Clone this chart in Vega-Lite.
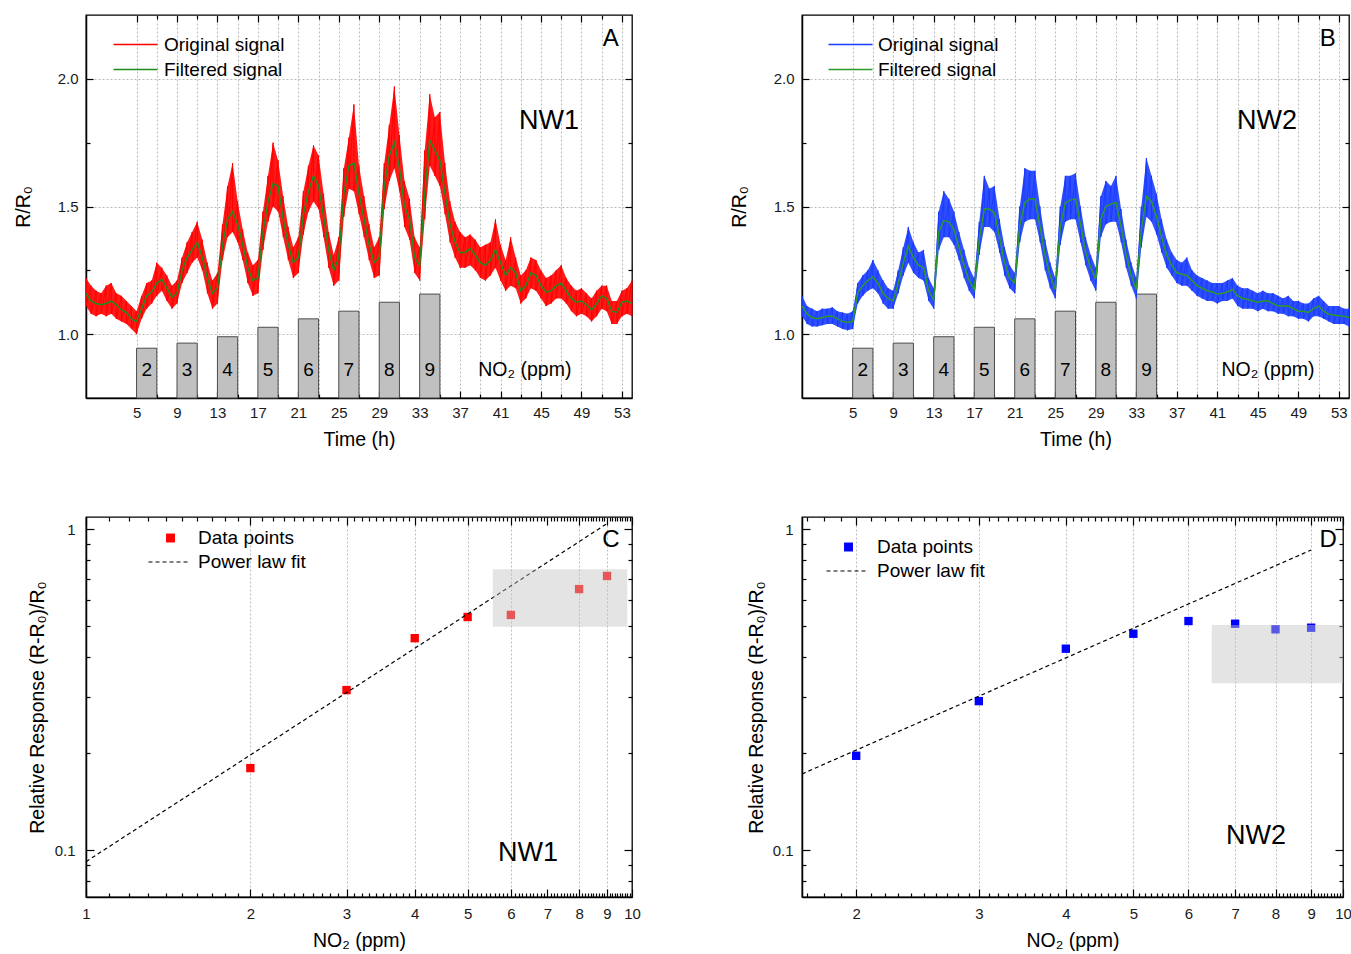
{
"$schema": "https://vega.github.io/schema/vega-lite/v6.json",
"background": "white",
"padding": {"left": 12, "top": 13, "right": 0, "bottom": 0},
"columns": 2,
"spacing": {"row": 65, "column": 87},
"resolve": {"scale": {"x": "independent", "y": "independent", "color": "independent", "strokeDash": "independent"}},
"config": {
  "font": "Liberation Sans",
  "view": {"stroke": "black", "strokeWidth": 1.3},
  "axis": {"labelFont": "Liberation Sans", "labelFontSize": 15, "labelColor": "#1a1a1a", "titleFont": "Liberation Sans", "titleFontSize": 19.5, "titleFontWeight": "normal", "titleColor": "black", "tickColor": "black", "tickWidth": 1.2, "domainColor": "black", "domainWidth": 1.5, "gridColor": "#a8a8a8", "gridDash": [2, 2], "gridWidth": 0.8},
  "legend": {"labelFont": "Liberation Sans", "labelFontSize": 19, "labelColor": "black", "labelLimit": 0},
  "text": {"font": "Liberation Sans"}
},
"datasets": {
  "bars": [
    {"n": 2, "t0": 5, "t1": 7, "tm": 6, "h": 0.945},
    {"n": 3, "t0": 9, "t1": 11, "tm": 10, "h": 0.965},
    {"n": 4, "t0": 13, "t1": 15, "tm": 14, "h": 0.99},
    {"n": 5, "t0": 17, "t1": 19, "tm": 18, "h": 1.027},
    {"n": 6, "t0": 21, "t1": 23, "tm": 22, "h": 1.06},
    {"n": 7, "t0": 25, "t1": 27, "tm": 26, "h": 1.09},
    {"n": 8, "t0": 29, "t1": 31, "tm": 30, "h": 1.125},
    {"n": 9, "t0": 33, "t1": 35, "tm": 34, "h": 1.157}
  ],
  "nw1": [
    {"t":0,"f":1.16,"lo":1.11,"hi":1.22},{"t":0.5,"f":1.13,"lo":1.08,"hi":1.19},{"t":1,"f":1.12,"lo":1.07,"hi":1.17},{"t":1.5,"f":1.115,"lo":1.08,"hi":1.16},
    {"t":2,"f":1.12,"lo":1.07,"hi":1.19},{"t":2.5,"f":1.13,"lo":1.08,"hi":1.2},{"t":3,"f":1.115,"lo":1.06,"hi":1.16},{"t":3.5,"f":1.095,"lo":1.05,"hi":1.15},
    {"t":4,"f":1.085,"lo":1.04,"hi":1.13},{"t":4.5,"f":1.06,"lo":1.02,"hi":1.11},{"t":5,"f":1.05,"lo":1.0,"hi":1.09},{"t":5.5,"f":1.1,"lo":1.06,"hi":1.15},
    {"t":6,"f":1.15,"lo":1.1,"hi":1.2},{"t":6.5,"f":1.165,"lo":1.12,"hi":1.21},{"t":7,"f":1.2,"lo":1.15,"hi":1.28},{"t":7.5,"f":1.215,"lo":1.17,"hi":1.26},
    {"t":8,"f":1.18,"lo":1.13,"hi":1.23},{"t":8.5,"f":1.145,"lo":1.1,"hi":1.19},{"t":9,"f":1.16,"lo":1.12,"hi":1.21},{"t":9.5,"f":1.25,"lo":1.2,"hi":1.3},
    {"t":10,"f":1.3,"lo":1.24,"hi":1.36},{"t":10.5,"f":1.33,"lo":1.28,"hi":1.4},{"t":11,"f":1.36,"lo":1.3,"hi":1.44},{"t":11.5,"f":1.3,"lo":1.25,"hi":1.37},
    {"t":12,"f":1.22,"lo":1.16,"hi":1.28},{"t":12.5,"f":1.16,"lo":1.1,"hi":1.21},{"t":13,"f":1.18,"lo":1.12,"hi":1.24},{"t":13.5,"f":1.35,"lo":1.29,"hi":1.43},
    {"t":14,"f":1.45,"lo":1.38,"hi":1.58},{"t":14.5,"f":1.48,"lo":1.4,"hi":1.67},{"t":15,"f":1.43,"lo":1.36,"hi":1.52},{"t":15.5,"f":1.35,"lo":1.29,"hi":1.41},
    {"t":16,"f":1.26,"lo":1.2,"hi":1.32},{"t":16.5,"f":1.21,"lo":1.15,"hi":1.27},{"t":17,"f":1.22,"lo":1.16,"hi":1.29},{"t":17.5,"f":1.4,"lo":1.33,"hi":1.48},
    {"t":18,"f":1.52,"lo":1.44,"hi":1.62},{"t":18.5,"f":1.59,"lo":1.5,"hi":1.75},{"t":19,"f":1.58,"lo":1.48,"hi":1.68},{"t":19.5,"f":1.45,"lo":1.38,"hi":1.54},
    {"t":20,"f":1.35,"lo":1.29,"hi":1.42},{"t":20.5,"f":1.28,"lo":1.22,"hi":1.34},{"t":21,"f":1.3,"lo":1.24,"hi":1.38},{"t":21.5,"f":1.47,"lo":1.39,"hi":1.56},
    {"t":22,"f":1.56,"lo":1.48,"hi":1.66},{"t":22.5,"f":1.62,"lo":1.52,"hi":1.74},{"t":23,"f":1.58,"lo":1.49,"hi":1.7},{"t":23.5,"f":1.46,"lo":1.38,"hi":1.55},
    {"t":24,"f":1.33,"lo":1.26,"hi":1.4},{"t":24.5,"f":1.25,"lo":1.19,"hi":1.31},{"t":25,"f":1.3,"lo":1.21,"hi":1.38},{"t":25.5,"f":1.55,"lo":1.46,"hi":1.65},
    {"t":26,"f":1.66,"lo":1.57,"hi":1.77},{"t":26.5,"f":1.67,"lo":1.56,"hi":1.9},{"t":27,"f":1.55,"lo":1.47,"hi":1.66},{"t":27.5,"f":1.45,"lo":1.38,"hi":1.54},
    {"t":28,"f":1.35,"lo":1.29,"hi":1.43},{"t":28.5,"f":1.28,"lo":1.22,"hi":1.34},{"t":29,"f":1.3,"lo":1.23,"hi":1.38},{"t":29.5,"f":1.58,"lo":1.49,"hi":1.67},
    {"t":30,"f":1.7,"lo":1.6,"hi":1.82},{"t":30.5,"f":1.75,"lo":1.65,"hi":1.97},{"t":31,"f":1.65,"lo":1.56,"hi":1.78},{"t":31.5,"f":1.5,"lo":1.42,"hi":1.6},
    {"t":32,"f":1.45,"lo":1.37,"hi":1.53},{"t":32.5,"f":1.3,"lo":1.24,"hi":1.38},{"t":33,"f":1.27,"lo":1.21,"hi":1.34},{"t":33.5,"f":1.55,"lo":1.45,"hi":1.72},
    {"t":34,"f":1.76,"lo":1.66,"hi":1.94},{"t":34.5,"f":1.72,"lo":1.62,"hi":1.85},{"t":35,"f":1.68,"lo":1.58,"hi":1.87},{"t":35.5,"f":1.55,"lo":1.47,"hi":1.67},
    {"t":36,"f":1.43,"lo":1.36,"hi":1.52},{"t":36.5,"f":1.36,"lo":1.3,"hi":1.44},{"t":37,"f":1.32,"lo":1.26,"hi":1.4},{"t":37.5,"f":1.32,"lo":1.26,"hi":1.38},
    {"t":38,"f":1.335,"lo":1.27,"hi":1.39},{"t":38.5,"f":1.31,"lo":1.25,"hi":1.37},{"t":39,"f":1.28,"lo":1.22,"hi":1.34},{"t":39.5,"f":1.27,"lo":1.21,"hi":1.35},
    {"t":40,"f":1.29,"lo":1.23,"hi":1.36},{"t":40.5,"f":1.33,"lo":1.26,"hi":1.45},{"t":41,"f":1.28,"lo":1.21,"hi":1.35},{"t":41.5,"f":1.23,"lo":1.17,"hi":1.29},
    {"t":42,"f":1.26,"lo":1.19,"hi":1.38},{"t":42.5,"f":1.24,"lo":1.18,"hi":1.3},{"t":43,"f":1.17,"lo":1.12,"hi":1.23},{"t":43.5,"f":1.19,"lo":1.14,"hi":1.25},
    {"t":44,"f":1.24,"lo":1.18,"hi":1.3},{"t":44.5,"f":1.23,"lo":1.17,"hi":1.29},{"t":45,"f":1.19,"lo":1.14,"hi":1.25},{"t":45.5,"f":1.165,"lo":1.11,"hi":1.22},
    {"t":46,"f":1.17,"lo":1.12,"hi":1.23},{"t":46.5,"f":1.19,"lo":1.14,"hi":1.25},{"t":47,"f":1.2,"lo":1.14,"hi":1.27},{"t":47.5,"f":1.17,"lo":1.12,"hi":1.22},
    {"t":48,"f":1.14,"lo":1.09,"hi":1.19},{"t":48.5,"f":1.125,"lo":1.07,"hi":1.17},{"t":49,"f":1.13,"lo":1.08,"hi":1.18},{"t":49.5,"f":1.115,"lo":1.07,"hi":1.16},
    {"t":50,"f":1.095,"lo":1.05,"hi":1.14},{"t":50.5,"f":1.12,"lo":1.07,"hi":1.17},{"t":51,"f":1.15,"lo":1.1,"hi":1.19},{"t":51.5,"f":1.14,"lo":1.09,"hi":1.19},
    {"t":52,"f":1.09,"lo":1.04,"hi":1.13},{"t":52.5,"f":1.085,"lo":1.04,"hi":1.13},{"t":53,"f":1.125,"lo":1.07,"hi":1.17},{"t":53.5,"f":1.13,"lo":1.08,"hi":1.18},
    {"t":54,"f":1.12,"lo":1.07,"hi":1.21}
  ],
  "nw2": [
    {"t":0,"f":1.11,"lo":1.07,"hi":1.15},{"t":0.5,"f":1.08,"lo":1.04,"hi":1.11},{"t":1,"f":1.065,"lo":1.03,"hi":1.1},{"t":1.5,"f":1.06,"lo":1.03,"hi":1.09},
    {"t":2,"f":1.065,"lo":1.035,"hi":1.1},{"t":2.5,"f":1.07,"lo":1.04,"hi":1.1},{"t":3,"f":1.07,"lo":1.04,"hi":1.105},{"t":3.5,"f":1.06,"lo":1.03,"hi":1.09},
    {"t":4,"f":1.05,"lo":1.02,"hi":1.085},{"t":4.5,"f":1.046,"lo":1.015,"hi":1.08},{"t":5,"f":1.05,"lo":1.02,"hi":1.09},{"t":5.5,"f":1.163,"lo":1.12,"hi":1.2},
    {"t":6,"f":1.19,"lo":1.15,"hi":1.23},{"t":6.5,"f":1.21,"lo":1.17,"hi":1.25},{"t":7,"f":1.225,"lo":1.18,"hi":1.29},{"t":7.5,"f":1.2,"lo":1.16,"hi":1.25},
    {"t":8,"f":1.16,"lo":1.12,"hi":1.21},{"t":8.5,"f":1.14,"lo":1.1,"hi":1.18},{"t":9,"f":1.13,"lo":1.1,"hi":1.17},{"t":9.5,"f":1.2,"lo":1.16,"hi":1.25},
    {"t":10,"f":1.28,"lo":1.23,"hi":1.34},{"t":10.5,"f":1.345,"lo":1.28,"hi":1.42},{"t":11,"f":1.3,"lo":1.24,"hi":1.36},{"t":11.5,"f":1.27,"lo":1.22,"hi":1.32},
    {"t":12,"f":1.26,"lo":1.21,"hi":1.33},{"t":12.5,"f":1.17,"lo":1.13,"hi":1.22},{"t":13,"f":1.135,"lo":1.1,"hi":1.18},{"t":13.5,"f":1.4,"lo":1.33,"hi":1.48},
    {"t":14,"f":1.445,"lo":1.38,"hi":1.56},{"t":14.5,"f":1.44,"lo":1.38,"hi":1.53},{"t":15,"f":1.41,"lo":1.35,"hi":1.48},{"t":15.5,"f":1.34,"lo":1.29,"hi":1.4},
    {"t":16,"f":1.27,"lo":1.22,"hi":1.33},{"t":16.5,"f":1.21,"lo":1.17,"hi":1.26},{"t":17,"f":1.175,"lo":1.14,"hi":1.22},{"t":17.5,"f":1.37,"lo":1.31,"hi":1.44},
    {"t":18,"f":1.49,"lo":1.42,"hi":1.62},{"t":18.5,"f":1.49,"lo":1.42,"hi":1.57},{"t":19,"f":1.475,"lo":1.4,"hi":1.58},{"t":19.5,"f":1.38,"lo":1.32,"hi":1.45},
    {"t":20,"f":1.28,"lo":1.23,"hi":1.34},{"t":20.5,"f":1.22,"lo":1.18,"hi":1.27},{"t":21,"f":1.2,"lo":1.16,"hi":1.24},{"t":21.5,"f":1.425,"lo":1.36,"hi":1.5},
    {"t":22,"f":1.515,"lo":1.44,"hi":1.65},{"t":22.5,"f":1.53,"lo":1.45,"hi":1.64},{"t":23,"f":1.53,"lo":1.45,"hi":1.64},{"t":23.5,"f":1.42,"lo":1.36,"hi":1.5},
    {"t":24,"f":1.31,"lo":1.25,"hi":1.37},{"t":24.5,"f":1.23,"lo":1.18,"hi":1.28},{"t":25,"f":1.175,"lo":1.14,"hi":1.22},{"t":25.5,"f":1.42,"lo":1.35,"hi":1.5},
    {"t":26,"f":1.515,"lo":1.44,"hi":1.62},{"t":26.5,"f":1.525,"lo":1.45,"hi":1.62},{"t":27,"f":1.53,"lo":1.45,"hi":1.63},{"t":27.5,"f":1.43,"lo":1.36,"hi":1.5},
    {"t":28,"f":1.32,"lo":1.27,"hi":1.38},{"t":28.5,"f":1.26,"lo":1.21,"hi":1.31},{"t":29,"f":1.215,"lo":1.17,"hi":1.26},{"t":29.5,"f":1.45,"lo":1.38,"hi":1.54},
    {"t":30,"f":1.5,"lo":1.43,"hi":1.6},{"t":30.5,"f":1.51,"lo":1.44,"hi":1.58},{"t":31,"f":1.515,"lo":1.44,"hi":1.62},{"t":31.5,"f":1.42,"lo":1.36,"hi":1.49},
    {"t":32,"f":1.31,"lo":1.26,"hi":1.37},{"t":32.5,"f":1.23,"lo":1.19,"hi":1.28},{"t":33,"f":1.175,"lo":1.14,"hi":1.22},{"t":33.5,"f":1.41,"lo":1.34,"hi":1.5},
    {"t":34,"f":1.54,"lo":1.46,"hi":1.69},{"t":34.5,"f":1.52,"lo":1.44,"hi":1.62},{"t":35,"f":1.46,"lo":1.39,"hi":1.55},{"t":35.5,"f":1.38,"lo":1.32,"hi":1.45},
    {"t":36,"f":1.31,"lo":1.26,"hi":1.37},{"t":36.5,"f":1.27,"lo":1.23,"hi":1.32},{"t":37,"f":1.24,"lo":1.2,"hi":1.29},{"t":37.5,"f":1.235,"lo":1.19,"hi":1.28},
    {"t":38,"f":1.23,"lo":1.19,"hi":1.3},{"t":38.5,"f":1.21,"lo":1.17,"hi":1.25},{"t":39,"f":1.19,"lo":1.15,"hi":1.23},{"t":39.5,"f":1.18,"lo":1.14,"hi":1.22},
    {"t":40,"f":1.17,"lo":1.13,"hi":1.21},{"t":40.5,"f":1.165,"lo":1.13,"hi":1.2},{"t":41,"f":1.157,"lo":1.12,"hi":1.2},{"t":41.5,"f":1.16,"lo":1.13,"hi":1.2},
    {"t":42,"f":1.165,"lo":1.13,"hi":1.21},{"t":42.5,"f":1.175,"lo":1.14,"hi":1.22},{"t":43,"f":1.15,"lo":1.11,"hi":1.19},{"t":43.5,"f":1.14,"lo":1.1,"hi":1.18},
    {"t":44,"f":1.137,"lo":1.1,"hi":1.18},{"t":44.5,"f":1.13,"lo":1.1,"hi":1.17},{"t":45,"f":1.125,"lo":1.09,"hi":1.16},{"t":45.5,"f":1.13,"lo":1.1,"hi":1.17},
    {"t":46,"f":1.13,"lo":1.09,"hi":1.16},{"t":46.5,"f":1.12,"lo":1.09,"hi":1.16},{"t":47,"f":1.11,"lo":1.08,"hi":1.15},{"t":47.5,"f":1.11,"lo":1.08,"hi":1.14},
    {"t":48,"f":1.11,"lo":1.07,"hi":1.15},{"t":48.5,"f":1.1,"lo":1.07,"hi":1.13},{"t":49,"f":1.09,"lo":1.06,"hi":1.13},{"t":49.5,"f":1.09,"lo":1.06,"hi":1.12},
    {"t":50,"f":1.085,"lo":1.05,"hi":1.12},{"t":50.5,"f":1.1,"lo":1.07,"hi":1.14},{"t":51,"f":1.11,"lo":1.07,"hi":1.15},{"t":51.5,"f":1.09,"lo":1.06,"hi":1.13},
    {"t":52,"f":1.078,"lo":1.05,"hi":1.11},{"t":52.5,"f":1.075,"lo":1.04,"hi":1.11},{"t":53,"f":1.072,"lo":1.04,"hi":1.11},{"t":53.5,"f":1.07,"lo":1.04,"hi":1.1},
    {"t":54,"f":1.065,"lo":1.03,"hi":1.1}
  ],
  "cpts": [{"x":2,"y":0.18},{"x":3,"y":0.315},{"x":4,"y":0.457},{"x":5,"y":0.532},{"x":6,"y":0.54},{"x":8,"y":0.65},{"x":9,"y":0.714}],
  "cfit": [{"x":1,"y":0.092},{"x":9,"y":1.04}],
  "dpts": [{"x":2,"y":0.1966},{"x":3,"y":0.291},{"x":4,"y":0.4238},{"x":5,"y":0.4718},{"x":6,"y":0.5168},{"x":7,"y":0.507},{"x":8,"y":0.487},{"x":9,"y":0.4927}],
  "dfit": [{"x":1.672,"y":0.1726},{"x":9,"y":0.86}]
},
"concat": [
  {
    "width": 546, "height": 383,
    "resolve": {"axis": {"x": "independent", "y": "independent"}},
    "layer": [
      {"data": {"name": "bars"}, "mark": {"type": "rect", "fill": "#c0c0c0", "stroke": "#4d4d4d", "strokeWidth": 1},
       "encoding": {
         "x": {"field": "t0", "type": "quantitative", "scale": {"domain": [0, 54], "nice": false, "zero": false},
               "axis": {"values": [5,7,9,11,13,15,17,19,21,23,25,27,29,31,33,35,37,39,41,43,45,47,49,51,53], "labelExpr": "(datum.value-5)%4==0 ? datum.label : ''", "tickSize": {"condition": {"test": "(datum.value-5)%4==0", "value": -7}, "value": -4}, "labelPadding": 14, "grid": true, "title": "Time (h)", "titlePadding": 10.75}},
         "x2": {"field": "t1"},
         "y": {"field": "h", "type": "quantitative", "scale": {"domain": [0.75, 2.25], "nice": false, "zero": false},
               "axis": {"values": [1, 1.25, 1.5, 1.75, 2], "labelExpr": "(datum.value*4)%2==0 ? format(datum.value,'.1f') : ''", "tickSize": {"condition": {"test": "(datum.value*4)%2==0", "value": -7}, "value": -4}, "labelPadding": 15, "grid": true, "gridOpacity": {"condition": {"test": "(datum.value*4)%2==0", "value": 1}, "value": 0}, "title": "R/R₀", "titlePadding": 24}},
         "y2": {"datum": 0.75}}},
      {"data": {"name": "bars"}, "mark": {"type": "text", "fontSize": 19, "color": "black"},
       "encoding": {"x": {"field": "tm", "type": "quantitative", "axis": null}, "y": {"datum": 0.86, "axis": null}, "text": {"field": "n"}}},
      {"data": {"name": "nw1"}, "mark": {"type": "area", "color": "#ff0000", "opacity": 0.9},
       "encoding": {"x": {"field": "t", "type": "quantitative", "axis": null}, "y": {"field": "lo", "type": "quantitative", "axis": null}, "y2": {"field": "hi"}}},
      {"data": {"name": "nw1"}, "transform": [{"fold": ["hi", "lo"], "as": ["k", "v"]}], "mark": {"type": "line", "strokeWidth": 1},
       "encoding": {"x": {"field": "t", "type": "quantitative", "axis": null}, "y": {"field": "v", "type": "quantitative", "axis": null}, "order": {"value": null},
         "color": {"datum": "Original signal", "scale": {"domain": ["Original signal", "Filtered signal"], "range": ["#ff0000", "#1e8c1e"]},
                   "legend": {"orient": "none", "legendX": 40, "legendY": 20, "title": null, "symbolType": "M-4.4,0H4.4", "symbolSize": 100, "symbolStrokeWidth": 1.5, "labelOffset": 19, "rowPadding": 5}}}},
      {"data": {"name": "nw1"}, "mark": {"type": "line", "strokeWidth": 1.5},
       "encoding": {"x": {"field": "t", "type": "quantitative", "axis": {"orient": "top", "values": [5,7,9,11,13,15,17,19,21,23,25,27,29,31,33,35,37,39,41,43,45,47,49,51,53], "labels": false, "title": null, "domain": false, "grid": false, "tickSize": {"condition": {"test": "(datum.value-5)%4==0", "value": -7}, "value": -4}}},
         "y": {"field": "f", "type": "quantitative", "axis": {"orient": "right", "values": [1, 1.25, 1.5, 1.75, 2], "labels": false, "title": null, "domain": false, "grid": false, "tickSize": {"condition": {"test": "(datum.value*4)%2==0", "value": -7}, "value": -4}}},
         "color": {"datum": "Filtered signal"}}},
      {"data": {"values": [{"t": 51.9, "v": 2.156, "s": "A", "fs": 24}, {"t": 45.8, "v": 1.836, "s": "NW1", "fs": 27}, {"t": 43.4, "v": 0.86, "s": "NO₂ (ppm)", "fs": 19.5}]},
       "mark": {"type": "text", "color": "black"},
       "encoding": {"x": {"field": "t", "type": "quantitative", "axis": null}, "y": {"field": "v", "type": "quantitative", "axis": null}, "text": {"field": "s"}, "size": {"field": "fs", "type": "quantitative", "scale": null}}}
    ]
  },
  {
    "width": 547, "height": 383,
    "resolve": {"axis": {"x": "independent", "y": "independent"}},
    "layer": [
      {"data": {"name": "bars"}, "mark": {"type": "rect", "fill": "#c0c0c0", "stroke": "#4d4d4d", "strokeWidth": 1},
       "encoding": {
         "x": {"field": "t0", "type": "quantitative", "scale": {"domain": [0, 54], "nice": false, "zero": false},
               "axis": {"values": [5,7,9,11,13,15,17,19,21,23,25,27,29,31,33,35,37,39,41,43,45,47,49,51,53], "labelExpr": "(datum.value-5)%4==0 ? datum.label : ''", "tickSize": {"condition": {"test": "(datum.value-5)%4==0", "value": -7}, "value": -4}, "labelPadding": 14, "grid": true, "title": "Time (h)", "titlePadding": 10.75}},
         "x2": {"field": "t1"},
         "y": {"field": "h", "type": "quantitative", "scale": {"domain": [0.75, 2.25], "nice": false, "zero": false},
               "axis": {"values": [1, 1.25, 1.5, 1.75, 2], "labelExpr": "(datum.value*4)%2==0 ? format(datum.value,'.1f') : ''", "tickSize": {"condition": {"test": "(datum.value*4)%2==0", "value": -7}, "value": -4}, "labelPadding": 15, "grid": true, "gridOpacity": {"condition": {"test": "(datum.value*4)%2==0", "value": 1}, "value": 0}, "title": "R/R₀", "titlePadding": 24}},
         "y2": {"datum": 0.75}}},
      {"data": {"name": "bars"}, "mark": {"type": "text", "fontSize": 19, "color": "black"},
       "encoding": {"x": {"field": "tm", "type": "quantitative", "axis": null}, "y": {"datum": 0.86, "axis": null}, "text": {"field": "n"}}},
      {"data": {"name": "nw2"}, "mark": {"type": "area", "color": "#1a3cff", "opacity": 0.9},
       "encoding": {"x": {"field": "t", "type": "quantitative", "axis": null}, "y": {"field": "lo", "type": "quantitative", "axis": null}, "y2": {"field": "hi"}}},
      {"data": {"name": "nw2"}, "transform": [{"fold": ["hi", "lo"], "as": ["k", "v"]}], "mark": {"type": "line", "strokeWidth": 1},
       "encoding": {"x": {"field": "t", "type": "quantitative", "axis": null}, "y": {"field": "v", "type": "quantitative", "axis": null}, "order": {"value": null},
         "color": {"datum": "Original signal", "scale": {"domain": ["Original signal", "Filtered signal"], "range": ["#1a3cff", "#2a9a2a"]},
                   "legend": {"orient": "none", "legendX": 39, "legendY": 20, "title": null, "symbolType": "M-4.4,0H4.4", "symbolSize": 100, "symbolStrokeWidth": 1.5, "labelOffset": 18, "rowPadding": 5}}}},
      {"data": {"name": "nw2"}, "mark": {"type": "line", "strokeWidth": 1.5},
       "encoding": {"x": {"field": "t", "type": "quantitative", "axis": {"orient": "top", "values": [5,7,9,11,13,15,17,19,21,23,25,27,29,31,33,35,37,39,41,43,45,47,49,51,53], "labels": false, "title": null, "domain": false, "grid": false, "tickSize": {"condition": {"test": "(datum.value-5)%4==0", "value": -7}, "value": -4}}},
         "y": {"field": "f", "type": "quantitative", "axis": {"orient": "right", "values": [1, 1.25, 1.5, 1.75, 2], "labels": false, "title": null, "domain": false, "grid": false, "tickSize": {"condition": {"test": "(datum.value*4)%2==0", "value": -7}, "value": -4}}},
         "color": {"datum": "Filtered signal"}}},
      {"data": {"values": [{"t": 51.9, "v": 2.156, "s": "B", "fs": 24}, {"t": 45.9, "v": 1.836, "s": "NW2", "fs": 27}, {"t": 46, "v": 0.86, "s": "NO₂ (ppm)", "fs": 19.5}]},
       "mark": {"type": "text", "color": "black"},
       "encoding": {"x": {"field": "t", "type": "quantitative", "axis": null}, "y": {"field": "v", "type": "quantitative", "axis": null}, "text": {"field": "s"}, "size": {"field": "fs", "type": "quantitative", "scale": null}}}
    ]
  },
  {
    "width": 546, "height": 380,
    "resolve": {"axis": {"x": "independent", "y": "independent"}},
    "layer": [
      {"data": {"name": "cpts"}, "mark": {"type": "square", "size": 70, "opacity": 1},
       "encoding": {
         "x": {"field": "x", "type": "quantitative", "scale": {"type": "log", "domain": [1, 10], "nice": false},
               "axis": {"values": [1,1.1,1.2,1.3,1.4,1.5,1.6,1.7,1.8,1.9,2,2.1,2.2,2.3,2.4,2.5,2.6,2.7,2.8,2.9,3,3.1,3.2,3.3,3.4,3.5,3.6,3.7,3.8,3.9,4,4.1,4.2,4.3,4.4,4.5,4.6,4.7,4.8,4.9,5,5.1,5.2,5.3,5.4,5.5,5.6,5.7,5.8,5.9,6,6.1,6.2,6.3,6.4,6.5,6.6,6.7,6.8,6.9,7,7.1,7.2,7.3,7.4,7.5,7.6,7.7,7.8,7.9,8,8.1,8.2,8.3,8.4,8.5,8.6,8.7,8.8,8.9,9,9.1,9.2,9.3,9.4,9.5,9.6,9.7,9.8,9.9,10],
                        "labelExpr": "datum.value%1==0 ? format(datum.value,'d') : ''", "tickSize": {"condition": {"test": "datum.value%1==0", "value": -8}, "value": -4}, "labelPadding": 17, "labelOverlap": false, "labelFlush": false, "grid": true, "gridOpacity": {"condition": {"test": "indexof([2,3,4,5,6,8,9], datum.value) >= 0", "value": 1}, "value": 0}, "title": "NO₂ (ppm)", "titlePadding": 6.75}},
         "y": {"field": "y", "type": "quantitative", "scale": {"type": "log", "domain": [0.0714, 1.09], "nice": false},
               "axis": {"values": [0.08,0.09,0.1,0.2,0.3,0.4,0.5,0.6,0.7,0.8,0.9,1], "labelExpr": "datum.value==1 ? '1' : (datum.value==0.1 ? '0.1' : '')", "tickSize": {"condition": {"test": "datum.value==1 || datum.value==0.1", "value": -8}, "value": -4}, "labelPadding": 19, "labelOverlap": false, "grid": false, "title": "Relative Response (R-R₀)/R₀", "titlePadding": 6.25}},
         "color": {"datum": "Data points", "scale": {"domain": ["Data points"], "range": ["#ff0000"]},
                   "legend": {"orient": "none", "legendX": 75, "legendY": 11.5, "title": null, "symbolType": "square", "symbolSize": 80, "labelOffset": 18}}}},
      {"data": {"name": "cfit"}, "mark": {"type": "line", "color": "black", "strokeWidth": 1.2},
       "encoding": {
         "x": {"field": "x", "type": "quantitative", "axis": {"orient": "top", "values": [1,1.1,1.2,1.3,1.4,1.5,1.6,1.7,1.8,1.9,2,2.1,2.2,2.3,2.4,2.5,2.6,2.7,2.8,2.9,3,3.1,3.2,3.3,3.4,3.5,3.6,3.7,3.8,3.9,4,4.1,4.2,4.3,4.4,4.5,4.6,4.7,4.8,4.9,5,5.1,5.2,5.3,5.4,5.5,5.6,5.7,5.8,5.9,6,6.1,6.2,6.3,6.4,6.5,6.6,6.7,6.8,6.9,7,7.1,7.2,7.3,7.4,7.5,7.6,7.7,7.8,7.9,8,8.1,8.2,8.3,8.4,8.5,8.6,8.7,8.8,8.9,9,9.1,9.2,9.3,9.4,9.5,9.6,9.7,9.8,9.9,10], "labels": false, "title": null, "domain": false, "grid": false, "tickSize": {"condition": {"test": "datum.value%1==0", "value": -8}, "value": -4}}},
         "y": {"field": "y", "type": "quantitative", "axis": {"orient": "right", "values": [0.08,0.09,0.1,0.2,0.3,0.4,0.5,0.6,0.7,0.8,0.9,1], "labels": false, "title": null, "domain": false, "grid": false, "tickSize": {"condition": {"test": "datum.value==1 || datum.value==0.1", "value": -8}, "value": -4}}},
         "strokeDash": {"datum": "Power law fit", "scale": {"domain": ["Power law fit"], "range": [[4, 3]]},
                        "legend": {"orient": "none", "legendX": 73, "legendY": 35.5, "title": null, "symbolType": "M-4,0H4", "symbolSize": 100, "symbolStrokeColor": "black", "symbolStrokeWidth": 1.2, "labelOffset": 20}}}},
      {"data": {"values": [{"x1": 5.56, "x2": 9.8, "y1": 0.496, "y2": 0.749}]}, "mark": {"type": "rect", "fill": "#c4c4c4", "opacity": 0.45},
       "encoding": {"x": {"field": "x1", "type": "quantitative", "axis": null}, "x2": {"field": "x2"}, "y": {"field": "y1", "type": "quantitative", "axis": null}, "y2": {"field": "y2"}}},
      {"data": {"values": [{"x": 9.15, "y": 0.924, "s": "C", "fs": 24}, {"x": 6.45, "y": 0.0979, "s": "NW1", "fs": 27}]},
       "mark": {"type": "text", "color": "black"},
       "encoding": {"x": {"field": "x", "type": "quantitative", "axis": null}, "y": {"field": "y", "type": "quantitative", "axis": null}, "text": {"field": "s"}, "size": {"field": "fs", "type": "quantitative", "scale": null}}}
    ]
  },
  {
    "width": 541, "height": 380,
    "resolve": {"axis": {"x": "independent", "y": "independent"}},
    "layer": [
      {"data": {"name": "dpts"}, "mark": {"type": "square", "size": 70, "opacity": 1},
       "encoding": {
         "x": {"field": "x", "type": "quantitative", "scale": {"type": "log", "domain": [1.672, 10], "nice": false},
               "axis": {"values": [1.7,1.8,1.9,2,2.1,2.2,2.3,2.4,2.5,2.6,2.7,2.8,2.9,3,3.1,3.2,3.3,3.4,3.5,3.6,3.7,3.8,3.9,4,4.1,4.2,4.3,4.4,4.5,4.6,4.7,4.8,4.9,5,5.1,5.2,5.3,5.4,5.5,5.6,5.7,5.8,5.9,6,6.1,6.2,6.3,6.4,6.5,6.6,6.7,6.8,6.9,7,7.1,7.2,7.3,7.4,7.5,7.6,7.7,7.8,7.9,8,8.1,8.2,8.3,8.4,8.5,8.6,8.7,8.8,8.9,9,9.1,9.2,9.3,9.4,9.5,9.6,9.7,9.8,9.9,10],
                        "labelExpr": "datum.value%1==0 ? format(datum.value,'d') : ''", "tickSize": {"condition": {"test": "datum.value%1==0", "value": -8}, "value": -4}, "labelPadding": 17, "labelOverlap": false, "labelFlush": false, "grid": true, "gridOpacity": {"condition": {"test": "indexof([2,3,4,5,6,7,8,9], datum.value) >= 0", "value": 1}, "value": 0}, "title": "NO₂ (ppm)", "titlePadding": 6.75}},
         "y": {"field": "y", "type": "quantitative", "scale": {"type": "log", "domain": [0.0714, 1.09], "nice": false},
               "axis": {"values": [0.08,0.09,0.1,0.2,0.3,0.4,0.5,0.6,0.7,0.8,0.9,1], "labelExpr": "datum.value==1 ? '1' : (datum.value==0.1 ? '0.1' : '')", "tickSize": {"condition": {"test": "datum.value==1 || datum.value==0.1", "value": -8}, "value": -4}, "labelPadding": 17, "labelOverlap": false, "grid": false, "title": "Relative Response (R-R₀)/R₀", "titlePadding": 5.25}},
         "color": {"datum": "Data points", "scale": {"domain": ["Data points"], "range": ["#0000ff"]},
                   "legend": {"orient": "none", "legendX": 37, "legendY": 20.5, "title": null, "symbolType": "square", "symbolSize": 80, "labelOffset": 19}}}},
      {"data": {"name": "dfit"}, "mark": {"type": "line", "color": "black", "strokeWidth": 1.2},
       "encoding": {
         "x": {"field": "x", "type": "quantitative", "axis": {"orient": "top", "values": [1.7,1.8,1.9,2,2.1,2.2,2.3,2.4,2.5,2.6,2.7,2.8,2.9,3,3.1,3.2,3.3,3.4,3.5,3.6,3.7,3.8,3.9,4,4.1,4.2,4.3,4.4,4.5,4.6,4.7,4.8,4.9,5,5.1,5.2,5.3,5.4,5.5,5.6,5.7,5.8,5.9,6,6.1,6.2,6.3,6.4,6.5,6.6,6.7,6.8,6.9,7,7.1,7.2,7.3,7.4,7.5,7.6,7.7,7.8,7.9,8,8.1,8.2,8.3,8.4,8.5,8.6,8.7,8.8,8.9,9,9.1,9.2,9.3,9.4,9.5,9.6,9.7,9.8,9.9,10], "labels": false, "title": null, "domain": false, "grid": false, "tickSize": {"condition": {"test": "datum.value%1==0", "value": -8}, "value": -4}}},
         "y": {"field": "y", "type": "quantitative", "axis": {"orient": "right", "values": [0.08,0.09,0.1,0.2,0.3,0.4,0.5,0.6,0.7,0.8,0.9,1], "labels": false, "title": null, "domain": false, "grid": false, "tickSize": {"condition": {"test": "datum.value==1 || datum.value==0.1", "value": -8}, "value": -4}}},
         "strokeDash": {"datum": "Power law fit", "scale": {"domain": ["Power law fit"], "range": [[4, 3]]},
                        "legend": {"orient": "none", "legendX": 35, "legendY": 44.5, "title": null, "symbolType": "M-4,0H4", "symbolSize": 100, "symbolStrokeColor": "black", "symbolStrokeWidth": 1.2, "labelOffset": 21}}}},
      {"data": {"values": [{"x1": 6.48, "x2": 10, "y1": 0.3306, "y2": 0.502}]}, "mark": {"type": "rect", "fill": "#c4c4c4", "opacity": 0.45},
       "encoding": {"x": {"field": "x1", "type": "quantitative", "axis": null}, "x2": {"field": "x2"}, "y": {"field": "y1", "type": "quantitative", "axis": null}, "y2": {"field": "y2"}}},
      {"data": {"values": [{"x": 9.52, "y": 0.924, "s": "D", "fs": 24}, {"x": 7.5, "y": 0.1106, "s": "NW2", "fs": 27}]},
       "mark": {"type": "text", "color": "black"},
       "encoding": {"x": {"field": "x", "type": "quantitative", "axis": null}, "y": {"field": "y", "type": "quantitative", "axis": null}, "text": {"field": "s"}, "size": {"field": "fs", "type": "quantitative", "scale": null}}}
    ]
  }
]
}
